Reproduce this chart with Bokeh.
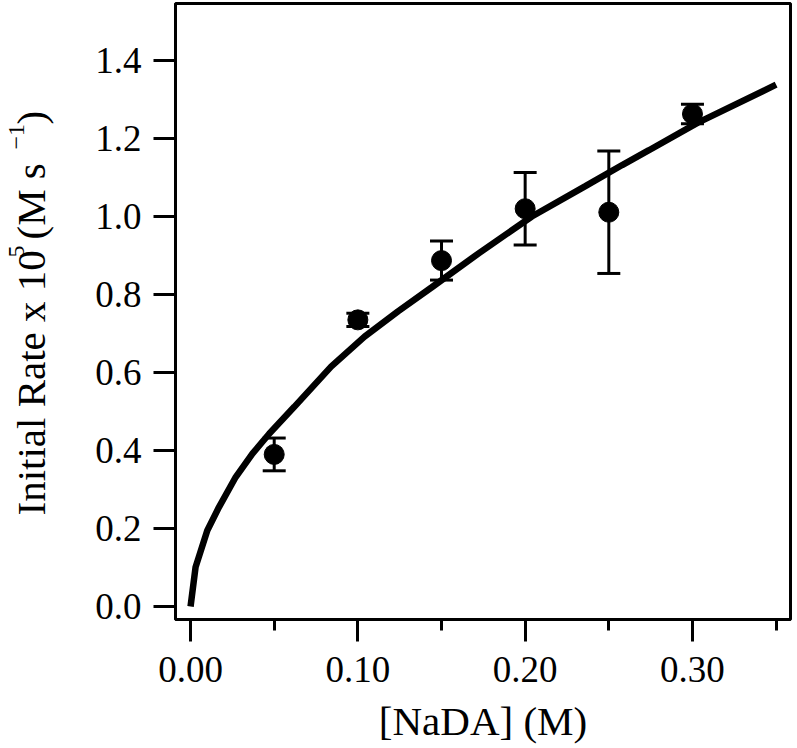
import math
from bokeh.plotting import figure
from bokeh.layouts import row
from bokeh.models import (ColumnDataSource, Whisker, TeeHead, FixedTicker, Range1d)
from bokeh.core.properties import value
from bokeh.embed import file_html
from bokeh.resources import INLINE

# ---- data ----
conc = [0.05, 0.10, 0.15, 0.20, 0.25, 0.30]
rate = [0.390, 0.735, 0.887, 1.020, 1.011, 1.263]
rate_err = [0.042, 0.017, 0.050, 0.093, 0.157, 0.025]

fit_x = [0.000, 0.003, 0.010, 0.017, 0.027, 0.037, 0.047, 0.062, 0.084,
         0.104, 0.124, 0.144, 0.172, 0.204, 0.236, 0.258, 0.274, 0.303, 0.350]
fit_y = [0.000, 0.101, 0.195, 0.255, 0.332, 0.392, 0.443, 0.512, 0.615,
         0.692, 0.757, 0.818, 0.905, 1.000, 1.078, 1.132, 1.170, 1.240, 1.338]

x_ticks = [0.0, 0.1, 0.2, 0.3]
x_minor_ticks = [0.05, 0.15, 0.25, 0.35]
x_tick_labels = ["0.00", "0.10", "0.20", "0.30"]
y_ticks = [0.0, 0.2, 0.4, 0.6, 0.8, 1.0, 1.2, 1.4]
y_tick_labels = ["0.0", "0.2", "0.4", "0.6", "0.8", "1.0", "1.2", "1.4"]

x_title = "[NaDA] (M)"
y_title_parts = ["Initial Rate x 10", "5", "(M s", "\u22121", ")"]

FONT = "Liberation Serif"
TOTAL_W, TOTAL_H = 797, 748
LEFT_W = 60
TOP_B, BOT_B = 3, 129

# ---- left strip carrying the rotated y title (pixel coordinates) ----
lp = figure(width=LEFT_W, height=TOTAL_H,
            x_range=Range1d(0, LEFT_W),
            y_range=Range1d(BOT_B, TOTAL_H - TOP_B),
            min_border_left=0, min_border_right=0,
            min_border_top=TOP_B, min_border_bottom=BOT_B,
            x_axis_location=None, y_axis_location=None,
            output_backend="svg", toolbar_location=None)
lp.grid.visible = False
lp.outline_line_color = None
lp.background_fill_color = "white"
lp.border_fill_color = "white"

# (anchor x, start y from top of page, font size) for each title part
title_pos = [(30, 515, "41px"), (16, 257, "24px"), (30, 239, "41px"),
             (16, 149, "24px"), (30, 124, "41px")]
for txt, (bx, ty, fs) in zip(y_title_parts, title_pos):
    lp.text(x=[bx], y=[TOTAL_H - ty], text=[txt], angle=math.pi / 2,
            text_font=value(FONT), text_font_size=value(fs),
            text_align="left", text_baseline="alphabetic",
            text_color="black")

# ---- main plot ----
p = figure(width=TOTAL_W - LEFT_W, height=TOTAL_H,
           x_range=Range1d(-0.009, 0.3586), y_range=Range1d(-0.0333, 1.5462),
           min_border_left=175 - LEFT_W, min_border_right=7,
           min_border_top=TOP_B, min_border_bottom=BOT_B,
           output_backend="svg", toolbar_location=None)
p.grid.visible = False
p.background_fill_color = "white"
p.border_fill_color = "white"
p.outline_line_color = "black"
p.outline_line_width = 3

xa = p.xaxis[0]
xa.ticker = FixedTicker(ticks=x_ticks, minor_ticks=x_minor_ticks)
xa.major_label_overrides = {t: l for t, l in zip(x_ticks, x_tick_labels)}
xa.axis_label = x_title
ya = p.yaxis[0]
ya.ticker = FixedTicker(ticks=y_ticks, minor_ticks=[])
ya.major_label_overrides = {t: l for t, l in zip(y_ticks, y_tick_labels)}

for ax in (xa, ya):
    ax.axis_line_width = 3
    ax.axis_line_color = "black"
    ax.major_tick_line_width = 3
    ax.major_tick_line_color = "black"
    ax.minor_tick_line_width = 3
    ax.minor_tick_line_color = "black"
    ax.major_tick_in = 0
    ax.major_tick_out = 22
    ax.minor_tick_in = 0
    ax.minor_tick_out = 11
    ax.major_label_text_font = FONT
    ax.major_label_text_font_size = "37px"
    ax.major_label_text_color = "black"
    ax.axis_label_text_font = FONT
    ax.axis_label_text_font_size = "41px"
    ax.axis_label_text_font_style = "normal"
    ax.axis_label_text_color = "black"

xa.major_label_standoff = 15
xa.axis_label_standoff = 13
ya.major_label_standoff = 12

# fitted curve
p.line(fit_x, fit_y, line_color="black", line_width=6.5)

# data points with error bars
src = ColumnDataSource(dict(
    x=conc, y=rate,
    lo=[r - e for r, e in zip(rate, rate_err)],
    hi=[r + e for r, e in zip(rate, rate_err)]))
w = Whisker(base="x", lower="lo", upper="hi", source=src,
            line_color="black", line_width=3,
            upper_head=TeeHead(size=23, line_color="black", line_width=3),
            lower_head=TeeHead(size=23, line_color="black", line_width=3))
p.add_layout(w)
p.scatter("x", "y", source=src, size=20, marker="circle",
          fill_color="black", line_color="black")

layout = row(lp, p, spacing=0)
open("out.html", "w").write(file_html(layout, INLINE))
